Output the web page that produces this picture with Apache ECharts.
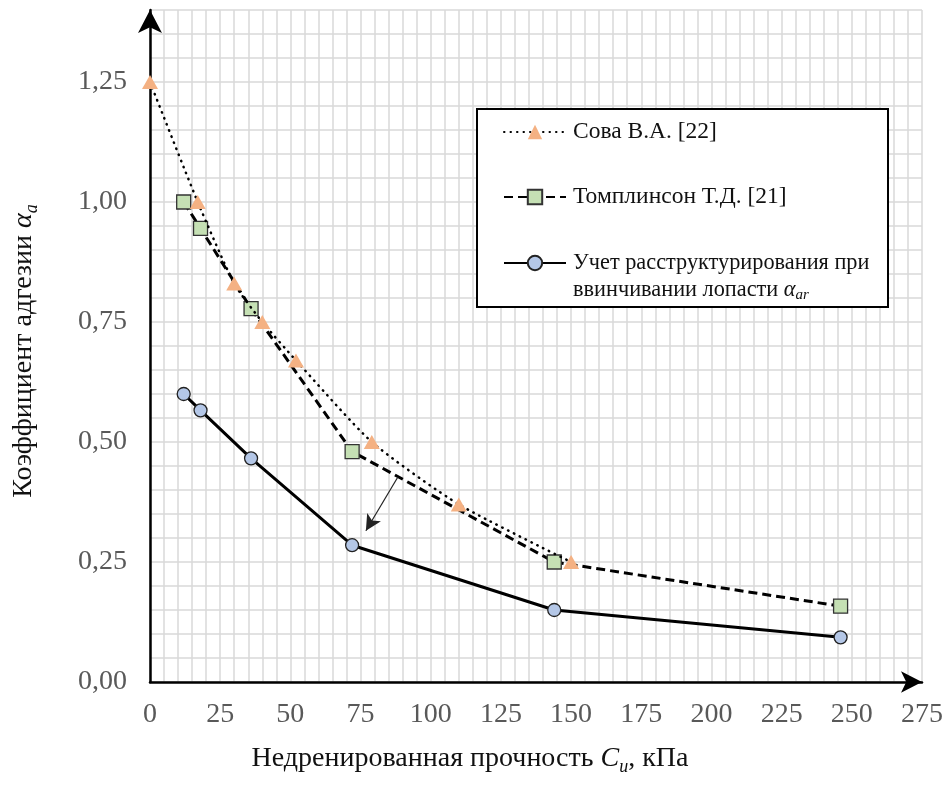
<!DOCTYPE html>
<html>
<head>
<meta charset="utf-8">
<script src="https://cdn.jsdelivr.net/npm/echarts@6/dist/echarts.min.js"></script>
<style>
html,body{margin:0;padding:0;background:#fff;}
#chart{width:947px;height:785px;}
</style>
</head>
<body>
<div id="chart"></div>
<script>
// ---- data ----
const seriesNames = ['Сова В.А. [22]', 'Томплинсон Т.Д. [21]', 'Учет расструктурирования при ввинчивании лопасти αar'];
const sovaX = [0, 17, 30, 40, 52, 79, 110, 150];
const sovaY = [1.25, 1.00, 0.83, 0.75, 0.67, 0.50, 0.37, 0.25];
const tomX = [12, 18, 36, 72, 144, 246];
const tomY = [1.00, 0.945, 0.778, 0.48, 0.25, 0.158];
const uchX = [12, 18, 36, 72, 144, 246];
const uchY = [0.60, 0.566, 0.466, 0.285, 0.15, 0.093];
const xTickLabels = [0, 25, 50, 75, 100, 125, 150, 175, 200, 225, 250, 275];
const yTickLabels = ['0,00', '0,25', '0,50', '0,75', '1,00', '1,25'];
const arrowFrom = [88.3, 0.427];
const arrowTo = [76.9, 0.315];

function pairs(xs, ys) { return xs.map((x, i) => [x, ys[i]]); }

const SERIF = 'Liberation Serif';
function richSet(size, subSize, subPad, lh) {
  return {
    i: { fontFamily: SERIF, fontStyle: 'italic', fontSize: size, color: '#111', lineHeight: lh },
    s: { fontFamily: SERIF, fontStyle: 'italic', fontSize: subSize, lineHeight: subSize, verticalAlign: 'top', padding: [subPad, 0, 0, 0], color: '#111' },
    n: { fontFamily: SERIF, fontSize: size, color: '#111', lineHeight: lh }
  };
}

const chart = echarts.init(document.getElementById('chart'), null, { renderer: 'canvas' });

function legendText(name) {
  if (name === seriesNames[2]) {
    return '\n{n|Учет расструктурирования при}\n{n|ввинчивании лопасти }{i|α}{s|ar}';
  }
  return '{n|' + name + '}';
}

function makeLegend(idx, top, lineHeight, size) {
  return {
    data: [seriesNames[idx]],
    left: 503,
    top: top,
    padding: 0,
    itemWidth: 62,
    itemHeight: 18,
    itemGap: 0,
    selectedMode: false,
    z: 10,
    formatter: legendText,
    textStyle: { fontFamily: SERIF, fontSize: size, color: '#111', lineHeight: lineHeight, padding: [0, 0, 0, 2],
      rich: richSet(size, 15, 11, lineHeight) }
  };
}

const option = {
  animation: false,
  backgroundColor: '#fff',
  grid: { left: 150, right: 25, top: 10, bottom: 103, containLabel: false },
  xAxis: {
    type: 'value', min: 0, max: 275, interval: 5,
    axisLine: { show: true, onZero: false, lineStyle: { color: '#000', width: 2.5 },
      symbol: ['none', 'arrow'], symbolSize: [16, 21], symbolOffset: [0, 0] },
    axisTick: { show: false },
    axisLabel: {
      margin: 19, color: '#595959', fontFamily: SERIF, fontSize: 28,
      formatter: v => (xTickLabels.indexOf(Math.round(v)) >= 0 && Math.abs(v - Math.round(v)) < 1e-6) ? String(Math.round(v)) : ''
    },
    splitLine: { show: true, lineStyle: { color: '#d9d9d9', width: 1.5 } },
    name: '{n|Недренированная прочность }{i|C}{s|u}{n|, кПа}',
    nameLocation: 'middle', nameGap: 63,
    nameTextStyle: { fontFamily: SERIF, fontSize: 28, color: '#111', padding: [0, 132, 0, 0], rich: richSet(28, 18, 13, 28) }
  },
  yAxis: {
    type: 'value', min: 0, max: 1.4, interval: 0.05,
    axisLine: { show: true, lineStyle: { color: '#000', width: 2.5 },
      symbol: ['none', 'arrow'], symbolSize: [18, 23], symbolOffset: [0, 0] },
    axisTick: { show: false },
    axisLabel: {
      margin: 23, color: '#595959', fontFamily: SERIF, fontSize: 28,
      formatter: v => {
        const k = Math.round(v * 4);
        if (Math.abs(v * 4 - k) > 1e-6) return '';
        return yTickLabels[k] || '';
      }
    },
    splitLine: { show: true, lineStyle: { color: '#d9d9d9', width: 1.5 } },
    name: '{n|Коэффициент адгезии }{i|α}{s|a}',
    nameLocation: 'middle', nameGap: 112,
    nameTextStyle: { fontFamily: SERIF, fontSize: 28, color: '#111', padding: [0, 10, 0, 0], rich: richSet(28, 18, 13, 28) }
  },
  legend: [makeLegend(0, 120, 23, 23.5), makeLegend(1, 185, 23, 23.5), makeLegend(2, 222.5, 27, 22.3)],
  graphic: [{
    type: 'rect', z: 5, silent: true,
    shape: { x: 477, y: 109, width: 411, height: 198 },
    style: { fill: '#fff', stroke: '#000', lineWidth: 2 }
  }],
  series: [
    {
      name: seriesNames[0], type: 'line', data: pairs(sovaX, sovaY), smooth: 0.2,
      symbol: 'triangle', symbolSize: [16, 14],
      itemStyle: { color: '#F4B183', borderColor: '#F4B183', borderWidth: 0 },
      lineStyle: { color: '#000', width: 2.5, type: [0.5, 6], cap: 'round' },
      z: 4
    },
    {
      name: seriesNames[1], type: 'line', data: pairs(tomX, tomY), smooth: false,
      symbol: 'rect', symbolSize: 14,
      itemStyle: { color: '#C5E0B4', borderColor: '#333', borderWidth: 1.3 },
      lineStyle: { color: '#000', width: 3, type: [9, 5] },
      z: 3,
      markLine: {
        silent: true, animation: false,
        symbol: ['none', 'arrow'], symbolSize: [12, 16],
        label: { show: false },
        lineStyle: { color: '#222', width: 1.2, type: 'solid' },
        emphasis: { disabled: true },
        data: [[{ coord: arrowFrom, symbol: 'none' }, { coord: arrowTo, symbol: 'arrow' }]]
      }
    },
    {
      name: seriesNames[2], type: 'line', data: pairs(uchX, uchY), smooth: false,
      symbol: 'circle', symbolSize: 13,
      itemStyle: { color: '#B4C7E7', borderColor: '#222', borderWidth: 1.3 },
      lineStyle: { color: '#000', width: 3, type: 'solid' },
      z: 3
    }
  ]
};
chart.setOption(option);
</script>
</body>
</html>
